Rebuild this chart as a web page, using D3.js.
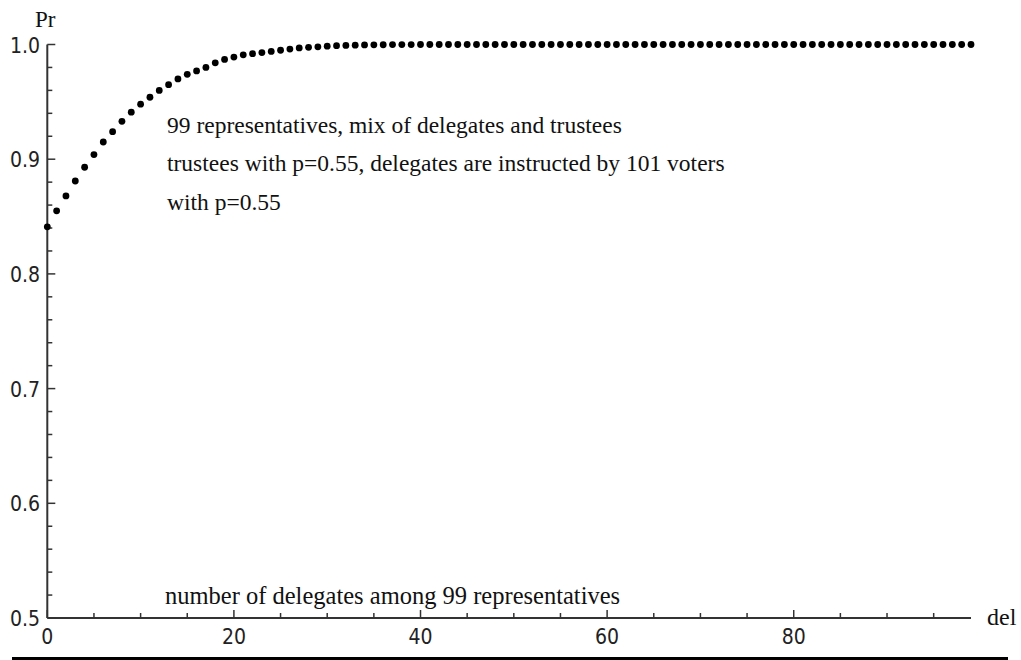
<!DOCTYPE html>
<html>
<head>
<meta charset="utf-8">
<script src="https://cdn.jsdelivr.net/npm/d3@7"></script>
<style>
  body { margin: 0; background: #fff; }
  svg { display: block; }
</style>
</head>
<body>
<svg id="chart" width="1021" height="660"></svg>
<script>
// del = 0..99, Pr
var del = d3.range(0, 100);
var pr = [
  0.841, 0.855, 0.868, 0.881, 0.893, 0.904, 0.915, 0.924, 0.933, 0.941,
  0.948, 0.954, 0.960, 0.965, 0.970, 0.974, 0.977, 0.980, 0.984, 0.987,
  0.989, 0.991, 0.992, 0.993, 0.994, 0.995, 0.996, 0.997, 0.9975, 0.998,
  0.9985, 0.999, 0.9992, 0.9994, 0.9996, 0.9997, 0.9998, 0.9999, 0.9999, 0.9999,
  1, 1, 1, 1, 1, 1, 1, 1, 1, 1,
  1, 1, 1, 1, 1, 1, 1, 1, 1, 1,
  1, 1, 1, 1, 1, 1, 1, 1, 1, 1,
  1, 1, 1, 1, 1, 1, 1, 1, 1, 1,
  1, 1, 1, 1, 1, 1, 1, 1, 1, 1,
  1, 1, 1, 1, 1, 1, 1, 1, 1, 1
];
var xMajor = [0, 20, 40, 60, 80];
var xMinor = d3.range(5, 100, 5).filter(function(v) { return v % 20 != 0; });
var yMajor = [0.5, 0.6, 0.7, 0.8, 0.9, 1.0];
var yMinor = d3.range(0.52, 1.0, 0.02).filter(function(v) { return Math.abs(v * 10 - Math.round(v * 10)) > 0.01; });
var notes = [
  "99 representatives, mix of delegates and trustees",
  "trustees with p=0.55, delegates are instructed by 101 voters",
  "with p=0.55"
];
var xTitle = "number of delegates among 99 representatives";

var svg = d3.select("#chart");
var axisColor = "#333";
var serif = "'Liberation Serif', 'Times New Roman', serif";
var tickFont = "'DejaVu Sans Condensed', 'Liberation Sans Narrow', sans-serif";

var x = d3.scaleLinear().domain([0, 99]).range([47.3, 971]);
var y = d3.scaleLinear().domain([0.5, 1.0]).range([618, 44.5]);

var g = svg.append("g");

// axis lines
g.append("line")
  .attr("x1", x(0)).attr("x2", x(0))
  .attr("y1", y(1.0)).attr("y2", y(0.5))
  .style("stroke", axisColor).style("stroke-width", 2);
g.append("line")
  .attr("x1", x(0)).attr("x2", x(99))
  .attr("y1", y(0.5)).attr("y2", y(0.5))
  .style("stroke", axisColor).style("stroke-width", 2);

// x ticks (pointing up)
g.selectAll(".xmaj").data(xMajor).enter().append("line")
  .attr("x1", function(d) { return x(d); }).attr("x2", function(d) { return x(d); })
  .attr("y1", y(0.5)).attr("y2", y(0.5) - 8)
  .style("stroke", axisColor).style("stroke-width", 1.5);
g.selectAll(".xmin").data(xMinor).enter().append("line")
  .attr("x1", function(d) { return x(d); }).attr("x2", function(d) { return x(d); })
  .attr("y1", y(0.5)).attr("y2", y(0.5) - 5)
  .style("stroke", axisColor).style("stroke-width", 1.5);

// y ticks (pointing right)
g.selectAll(".ymaj").data(yMajor).enter().append("line")
  .attr("x1", x(0)).attr("x2", x(0) + 8)
  .attr("y1", function(d) { return y(d); }).attr("y2", function(d) { return y(d); })
  .style("stroke", axisColor).style("stroke-width", 1.5);
g.selectAll(".ymin").data(yMinor).enter().append("line")
  .attr("x1", x(0)).attr("x2", x(0) + 5)
  .attr("y1", function(d) { return y(d); }).attr("y2", function(d) { return y(d); })
  .style("stroke", axisColor).style("stroke-width", 1.5);

// tick labels
g.selectAll(".xlab").data(xMajor).enter().append("text")
  .attr("x", function(d) { return x(d); })
  .attr("y", 644)
  .attr("text-anchor", "middle")
  .style("font", "21px " + tickFont)
  .style("fill", "#222")
  .text(function(d) { return d; });
g.selectAll(".ylab").data(yMajor).enter().append("text")
  .attr("x", 40)
  .attr("y", function(d) { return y(d) + 8; })
  .attr("text-anchor", "end")
  .style("font", "21px " + tickFont)
  .style("fill", "#222")
  .text(function(d) { return d3.format(".1f")(d); });

// axis names
g.append("text").attr("x", 35).attr("y", 27)
  .style("font", "23px " + serif).style("fill", "#111").text("Pr");
g.append("text").attr("x", 987).attr("y", 625)
  .style("font", "24px " + serif).style("fill", "#111").text("del");

// annotations
g.selectAll(".note").data(notes).enter().append("text")
  .attr("x", 167)
  .attr("y", function(d, i) { return 133 + i * 38.3; })
  .style("font", "23.5px " + serif).style("fill", "#111")
  .text(function(d) { return d; });
g.append("text").attr("x", 165).attr("y", 604)
  .style("font", "24.5px " + serif).style("fill", "#111").text(xTitle);

// points
g.selectAll(".dot").data(del).enter().append("circle")
  .attr("cx", function(d) { return x(d); })
  .attr("cy", function(d, i) { return y(pr[i]); })
  .attr("r", 3.4)
  .style("fill", "#000");

// bottom rule
svg.append("line")
  .attr("x1", 12).attr("x2", 1008)
  .attr("y1", 658.5).attr("y2", 658.5)
  .style("stroke", "#000").style("stroke-width", 3);
</script>
</body>
</html>
